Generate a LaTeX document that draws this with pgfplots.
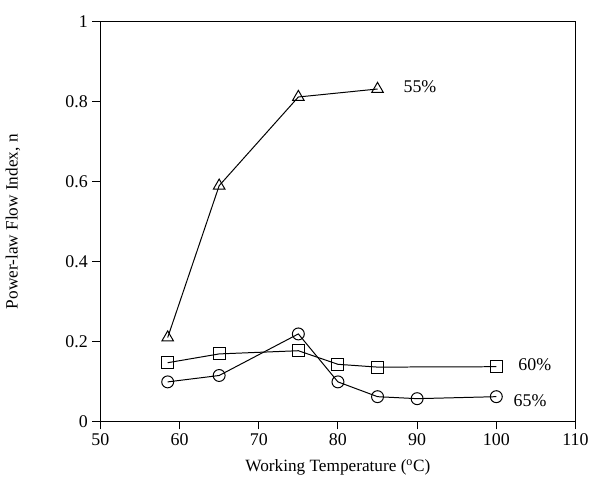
\documentclass[border=0pt]{standalone}
\usepackage{fontspec}
\setmainfont{Liberation Serif}
\usepackage{pgfplots}
\pgfplotsset{compat=1.18}
\begin{document}
\begin{tikzpicture}[x=1pt,y=1pt]
\begin{axis}[
  scale only axis,
  width=358.5pt, height=301.5pt,
  xmin=50, xmax=110, ymin=0, ymax=1,
  xtick={50,60,...,110}, ytick={0,0.2,...,1},
  yticklabels={0,0.2,0.4,0.6,0.8,1},
  tick align=outside, tick pos=left,
  major tick length=6pt,
  axis line style={line width=0.9pt},
  every tick/.style={black, line width=0.8pt},
  tick label style={font=\fontsize{13.5}{15}\selectfont},
  /pgf/number format/assume math mode=true,
  xlabel={Working Temperature (\textsuperscript{o}C)},
  ylabel={Power-law Flow Index, n},
  label style={font=\fontsize{13}{15}\selectfont},
  xlabel style={at={(axis description cs:0.5,-0.114)}, anchor=center},
  ylabel style={at={(axis description cs:-0.184,0.5)}, anchor=center},
  clip=false,
]
\addplot[black, line width=0.75pt, mark=triangle, mark size=5pt, mark options={solid, fill=white}]
  coordinates {(58.5,0.21) (65,0.59) (75,0.812) (85,0.832)};
\addplot[black, line width=0.75pt, mark=square, mark size=4.5pt, mark options={solid, fill=white}]
  coordinates {(58.5,0.147) (65,0.169) (75,0.177) (80,0.143) (85,0.136) (100,0.137)};
\addplot[black, line width=0.75pt, mark=o, mark size=4.5pt, mark options={solid, fill=white}]
  coordinates {(58.5,0.099) (65,0.115) (75,0.219) (80,0.099) (85,0.062) (90,0.057) (100,0.062)};
\node[anchor=west, font=\fontsize{13.5}{15}\selectfont] at (axis cs:87.7,0.838) {55\%};
\node[anchor=west, font=\fontsize{13.5}{15}\selectfont] at (axis cs:102.2,0.142) {60\%};
\node[anchor=west, font=\fontsize{13.5}{15}\selectfont] at (axis cs:101.6,0.052) {65\%};
\end{axis}
\path ([xshift=-75.75pt,yshift=-47.25pt]current axis.south west) rectangle ([xshift=10.5pt,yshift=16.5pt]current axis.north east);
\end{tikzpicture}
\end{document}
